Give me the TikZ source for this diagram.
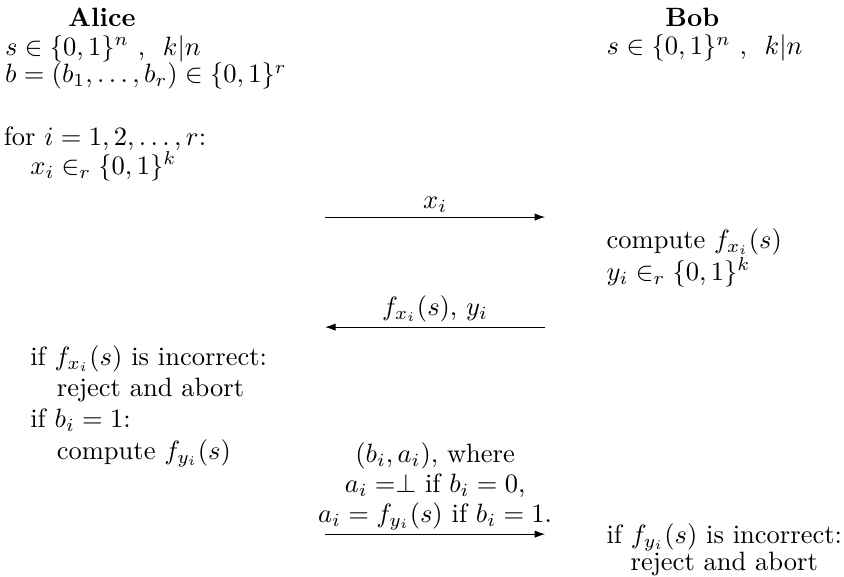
\documentclass[tikz,border=0pt]{standalone}
\usepackage{amssymb}
\usepackage{amsmath}
\usepackage{tikz}
\usetikzlibrary{arrows.meta, positioning}

\newcommand{\stepin}{\hspace*{1em}}

\begin{document}
\begin{tikzpicture}[
    party/.style={font=\bfseries, inner sep=0pt, anchor=base},
    % multi-line nodes: the base is the baseline of the last line
    steps/.style={align=left, inner sep=0pt, anchor=base west,
      font=\fontsize{10pt}{#1}\selectfont},
    msg/.style={-{Latex[length=4pt, width=2.8pt]}},
    lbl/.style={anchor=base, inner sep=0pt, align=center, yshift=#1,
      font=\fontsize{10pt}{11.3pt}\selectfont},
  ]
    \useasboundingbox (0, 0) rectangle (11.19, -7.65);

    \node[party] (alice) at (1.35, -0.345) {Alice};
    \node[party] (bob) at (9.18, -0.345) {Bob};

    \node[steps=10.45pt] (ainit) at (0.06, -1.097)
      {$s \in \{0,1\}^n$ , \ $k|n$\\
       $b = (b_1, \dots, b_r) \in \{0,1\}^r$};
    \node[steps=10.2pt] (binit) at (8.037, -0.729)
      {$s \in \{0,1\}^n$ , \ $k|n$};

    \node[steps=10.6pt] (loop) at (0.044, -2.308)
      {for $i = 1, 2, \dots, r$:\\
       \stepin$x_i \in_r \{0,1\}^k$};

    \node[steps=10.2pt] (bcomp) at (8.037, -3.714)
      {compute $f_{x_i}(s)$\\
       $y_i \in_r \{0,1\}^k$};

    \node[steps=11.8pt] (acheck) at (0.044, -6.088)
      {\stepin if $f_{x_i}(s)$ is incorrect:\\
       \stepin\stepin reject and abort\\
       \stepin if $b_i = 1$:\\
       \stepin\stepin compute $f_{y_i}(s)$};

    \node[steps=10.2pt, align=center, anchor=base] (bcheck) at (9.603, -7.56)
      {if $f_{y_i}(s)$ is incorrect:\\
       reject and abort};

    % message ends
    \coordinate (ask0) at (4.31, -2.878);
    \coordinate (ask1) at (7.228, -2.878);
    \coordinate (ans0) at (7.228, -4.337);
    \coordinate (ans1) at (4.31, -4.337);
    \coordinate (rev0) at (4.31, -7.082);
    \coordinate (rev1) at (7.228, -7.082);

    \draw[msg] (ask0) -- (ask1) node[lbl=3.4pt, midway] (askl) {$x_i$};
    \draw[msg] (ans0) -- (ans1) node[lbl=4.5pt, midway] (ansl) {$f_{x_i}(s)$, $y_i$};
    \draw[msg] (rev0) -- (rev1) node[lbl=4.5pt, midway] (revl)
      {$(b_i, a_i)$, where\\
       $a_i = \perp$ if $b_i = 0$,\\
       $a_i = f_{y_i}(s)$ if $b_i = 1$.};
  \end{tikzpicture}
\end{document}
